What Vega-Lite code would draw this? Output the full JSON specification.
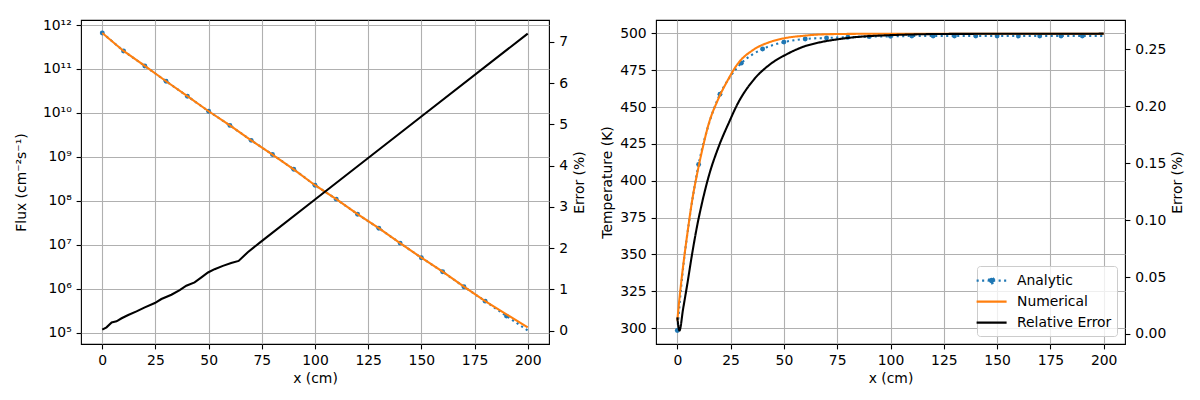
{
  "$schema": "https://vega.github.io/schema/vega-lite/v6.json",
  "padding": {"left": 13, "top": 17, "right": 5, "bottom": 5},
  "spacing": 12,
  "config": {
    "font": "DejaVu Sans",
    "view": {"stroke": "black", "strokeWidth": 1.1},
    "axis": {
      "labelFont": "DejaVu Sans", "labelFontSize": 13.9, "labelColor": "black",
      "titleFont": "DejaVu Sans", "titleFontSize": 13.9, "titleFontWeight": "normal", "titleColor": "black",
      "tickColor": "black", "tickSize": 4.9, "tickWidth": 1.1, "labelPadding": 4.9,
      "domain": false, "gridColor": "#b0b0b0", "gridWidth": 1.1, "gridOpacity": 1
    }
  },
  "resolve": {"scale": {"color": "independent", "strokeDash": "independent"}},
  "datasets": {
    "flux": [
      {"x": 0, "analytic": 6.6e11, "numerical": 6.6e11},
      {"x": 10, "analytic": 2.57e11, "numerical": 2.57e11},
      {"x": 20, "analytic": 1.17e11, "numerical": 1.17e11},
      {"x": 30, "analytic": 5.25e10, "numerical": 5.25e10},
      {"x": 40, "analytic": 2.4e10, "numerical": 2.4e10},
      {"x": 50, "analytic": 1.09e10, "numerical": 1.09e10},
      {"x": 60, "analytic": 5.2e9, "numerical": 5.2e9},
      {"x": 70, "analytic": 2.37e9, "numerical": 2.37e9},
      {"x": 80, "analytic": 1.13e9, "numerical": 1.13e9},
      {"x": 90, "analytic": 5.2e8, "numerical": 5.2e8},
      {"x": 100, "analytic": 2.26e8, "numerical": 2.26e8},
      {"x": 110, "analytic": 1.09e8, "numerical": 1.09e8},
      {"x": 120, "analytic": 4.95e7, "numerical": 4.95e7},
      {"x": 130, "analytic": 2.38e7, "numerical": 2.38e7},
      {"x": 140, "analytic": 1.09e7, "numerical": 1.09e7},
      {"x": 150, "analytic": 5.07e6, "numerical": 5.07e6},
      {"x": 160, "analytic": 2.43e6, "numerical": 2.43e6},
      {"x": 170, "analytic": 1.11e6, "numerical": 1.11e6},
      {"x": 180, "analytic": 5.2e5, "numerical": 5.2e5},
      {"x": 190, "analytic": 2.38e5, "numerical": 2.6e5},
      {"x": 200, "analytic": 1.12e5, "numerical": 1.32e5}
    ],
    "fluxErr": [
      {"x": 0, "err": 0.024}, {"x": 2, "err": 0.08}, {"x": 4.4, "err": 0.2}, {"x": 6.7, "err": 0.225},
      {"x": 9.1, "err": 0.3}, {"x": 12.2, "err": 0.38}, {"x": 16.1, "err": 0.467}, {"x": 20, "err": 0.564},
      {"x": 24.7, "err": 0.669}, {"x": 27.8, "err": 0.766}, {"x": 32.5, "err": 0.87}, {"x": 36.4, "err": 0.984},
      {"x": 39.5, "err": 1.09}, {"x": 43.4, "err": 1.17}, {"x": 46.6, "err": 1.29}, {"x": 49.7, "err": 1.41},
      {"x": 52.8, "err": 1.49}, {"x": 56.7, "err": 1.57}, {"x": 60.6, "err": 1.64}, {"x": 64.1, "err": 1.69},
      {"x": 68.4, "err": 1.9}, {"x": 74.2, "err": 2.14}, {"x": 100, "err": 3.18}, {"x": 150, "err": 5.19},
      {"x": 200, "err": 7.2}
    ],
    "temp": [
      {"x": 0, "series": "Analytic", "T": 298.4},
      {"x": 2.5, "series": "Analytic", "T": 338},
      {"x": 5, "series": "Analytic", "T": 367},
      {"x": 7.5, "series": "Analytic", "T": 391},
      {"x": 10, "series": "Analytic", "T": 411.1},
      {"x": 15, "series": "Analytic", "T": 439.5},
      {"x": 20, "series": "Analytic", "T": 458.7},
      {"x": 25, "series": "Analytic", "T": 471},
      {"x": 30, "series": "Analytic", "T": 479.8},
      {"x": 35, "series": "Analytic", "T": 485.5},
      {"x": 40, "series": "Analytic", "T": 489.4},
      {"x": 45, "series": "Analytic", "T": 492.2},
      {"x": 50, "series": "Analytic", "T": 494.1},
      {"x": 60, "series": "Analytic", "T": 496.2},
      {"x": 70, "series": "Analytic", "T": 496.9},
      {"x": 80, "series": "Analytic", "T": 497.4},
      {"x": 90, "series": "Analytic", "T": 497.8},
      {"x": 100, "series": "Analytic", "T": 498.0},
      {"x": 110, "series": "Analytic", "T": 498.2},
      {"x": 120, "series": "Analytic", "T": 498.2},
      {"x": 130, "series": "Analytic", "T": 498.2},
      {"x": 140, "series": "Analytic", "T": 498.2},
      {"x": 150, "series": "Analytic", "T": 498.2},
      {"x": 160, "series": "Analytic", "T": 498.2},
      {"x": 170, "series": "Analytic", "T": 498.2},
      {"x": 180, "series": "Analytic", "T": 498.2},
      {"x": 190, "series": "Analytic", "T": 498.2},
      {"x": 200, "series": "Analytic", "T": 498.2},
      {"x": 0, "series": "Numerical", "T": 305},
      {"x": 1, "series": "Numerical", "T": 320},
      {"x": 2.3, "series": "Numerical", "T": 337},
      {"x": 4.7, "series": "Numerical", "T": 364},
      {"x": 7, "series": "Numerical", "T": 387},
      {"x": 9.4, "series": "Numerical", "T": 405.5},
      {"x": 11.7, "series": "Numerical", "T": 421},
      {"x": 14.8, "series": "Numerical", "T": 439},
      {"x": 18.75, "series": "Numerical", "T": 454},
      {"x": 23.4, "series": "Numerical", "T": 467.6},
      {"x": 28.1, "series": "Numerical", "T": 478.9},
      {"x": 35.9, "series": "Numerical", "T": 489.1},
      {"x": 43.75, "series": "Numerical", "T": 494.3},
      {"x": 51.6, "series": "Numerical", "T": 497.1},
      {"x": 59.4, "series": "Numerical", "T": 498.4},
      {"x": 67.2, "series": "Numerical", "T": 499.3},
      {"x": 82.8, "series": "Numerical", "T": 499.7},
      {"x": 100, "series": "Numerical", "T": 499.8},
      {"x": 200, "series": "Numerical", "T": 499.8}
    ],
    "tempErr": [
      {"x": 0, "series": "Relative Error", "err": 0.0146},
      {"x": 1, "series": "Relative Error", "err": 0.003},
      {"x": 2.7, "series": "Relative Error", "err": 0.0219},
      {"x": 4.7, "series": "Relative Error", "err": 0.044},
      {"x": 7, "series": "Relative Error", "err": 0.071},
      {"x": 9.4, "series": "Relative Error", "err": 0.096},
      {"x": 11.7, "series": "Relative Error", "err": 0.116},
      {"x": 14.8, "series": "Relative Error", "err": 0.139},
      {"x": 19.5, "series": "Relative Error", "err": 0.165},
      {"x": 24.2, "series": "Relative Error", "err": 0.1857},
      {"x": 28.1, "series": "Relative Error", "err": 0.2015},
      {"x": 35.9, "series": "Relative Error", "err": 0.2235},
      {"x": 43.75, "series": "Relative Error", "err": 0.2372},
      {"x": 51.6, "series": "Relative Error", "err": 0.246},
      {"x": 59.4, "series": "Relative Error", "err": 0.2525},
      {"x": 67.2, "series": "Relative Error", "err": 0.2563},
      {"x": 75, "series": "Relative Error", "err": 0.2588},
      {"x": 82.8, "series": "Relative Error", "err": 0.2606},
      {"x": 100, "series": "Relative Error", "err": 0.2625},
      {"x": 130, "series": "Relative Error", "err": 0.2636},
      {"x": 200, "series": "Relative Error", "err": 0.2638}
    ]
  },
  "hconcat": [
    {
      "width": 468,
      "height": 324,
      "layer": [
        {
          "layer": [
            {
              "data": {"name": "flux"},
              "mark": {"type": "line", "color": "#1f77b4", "strokeWidth": 2.08, "strokeDash": [2.1, 3.4], "clip": true},
              "encoding": {
                "x": {"field": "x", "type": "quantitative", "scale": {"domain": [-10, 210], "nice": false, "zero": false},
                      "axis": {"values": [0, 25, 50, 75, 100, 125, 150, 175, 200], "title": "x (cm)", "grid": true, "titlePadding": 4}},
                "y": {"field": "analytic", "type": "quantitative", "title": "Flux (cm⁻²s⁻¹)",
                      "scale": {"type": "log", "domain": [5.51e4, 1.30e12], "nice": false},
                      "axis": {"orient": "left", "grid": true, "titlePadding": 14,
                               "values": [1e5, 1e6, 1e7, 1e8, 1e9, 1e10, 1e11, 1e12],
                               "labelExpr": "datum.value > 3e11 ? '10¹²' : datum.value > 3e10 ? '10¹¹' : datum.value > 3e9 ? '10¹⁰' : datum.value > 3e8 ? '10⁹' : datum.value > 3e7 ? '10⁸' : datum.value > 3e6 ? '10⁷' : datum.value > 3e5 ? '10⁶' : '10⁵'"}}
              }
            },
            {
              "data": {"name": "flux"},
              "transform": [{"filter": "datum.x < 200"}],
              "mark": {"type": "point", "filled": true, "color": "#1f77b4", "size": 24, "opacity": 1},
              "encoding": {
                "x": {"field": "x", "type": "quantitative"},
                "y": {"field": "analytic", "type": "quantitative", "title": "Flux (cm⁻²s⁻¹)"}
              }
            },
            {
              "data": {"name": "flux"},
              "mark": {"type": "line", "color": "#ff7f0e", "strokeWidth": 2.08, "clip": true},
              "encoding": {
                "x": {"field": "x", "type": "quantitative"},
                "y": {"field": "numerical", "type": "quantitative", "title": "Flux (cm⁻²s⁻¹)"}
              }
            }
          ]
        },
        {
          "data": {"name": "fluxErr"},
          "mark": {"type": "line", "color": "black", "strokeWidth": 2.08, "clip": true},
          "encoding": {
            "x": {"field": "x", "type": "quantitative"},
            "y": {"field": "err", "type": "quantitative", "title": "Error (%)",
                  "scale": {"domain": [-0.324, 7.53], "nice": false, "zero": false},
                  "axis": {"orient": "right", "grid": false, "values": [0, 1, 2, 3, 4, 5, 6, 7], "titlePadding": 5, "titleAngle": 270, "titleBaseline": "top"}}
          }
        }
      ],
      "resolve": {"scale": {"y": "independent"}}
    },
    {
      "width": 469,
      "height": 324,
      "layer": [
        {
          "layer": [
            {
              "data": {"name": "temp"},
              "transform": [{"filter": "datum.series == 'Analytic'"}],
              "mark": {"type": "line", "strokeWidth": 2.08, "clip": true, "interpolate": "monotone"},
              "encoding": {
                "x": {"field": "x", "type": "quantitative", "scale": {"domain": [-10, 210], "nice": false, "zero": false},
                      "axis": {"values": [0, 25, 50, 75, 100, 125, 150, 175, 200], "title": "x (cm)", "grid": true, "titlePadding": 4}},
                "y": {"field": "T", "type": "quantitative", "title": "Temperature (K)",
                      "scale": {"domain": [289.2, 509.1], "nice": false, "zero": false},
                      "axis": {"orient": "left", "grid": true, "titlePadding": 5, "values": [300, 325, 350, 375, 400, 425, 450, 475, 500]}},
                "color": {"field": "series", "type": "nominal",
                          "scale": {"domain": ["Analytic", "Numerical", "Relative Error"], "range": ["#1f77b4", "#ff7f0e", "black"]},
                          "legend": {
                            "title": null, "orient": "bottom-right", "offset": 8, "padding": 5.6,
                            "strokeColor": "#cccccc", "fillColor": "rgba(255,255,255,0.8)", "cornerRadius": 3,
                            "labelFont": "DejaVu Sans", "labelFontSize": 13.9, "labelColor": "black",
                            "symbolType": "stroke", "symbolSize": 225, "symbolStrokeWidth": 2.08,
                            "labelOffset": 16.4, "rowPadding": 5,
                            "encode": {"symbols": {"update": {
                              "shape": {"signal": "datum.value === 'Analytic' ? 'M-2,0L2,0M-0.37,0A0.37,0.37,0,1,1,0.37,0A0.37,0.37,0,1,1,-0.37,0Z' : 'M-2,0L2,0'"},
                              "fill": {"signal": "datum.value === 'Analytic' ? '#1f77b4' : 'transparent'"}
                            }}}
                          }},
                "strokeDash": {"field": "series", "type": "nominal",
                               "scale": {"domain": ["Analytic", "Numerical", "Relative Error"], "range": [[2.1, 3.4], [1, 0], [1, 0]]},
                               "legend": {
                                 "title": null, "orient": "bottom-right", "offset": 8, "padding": 5.6,
                                 "strokeColor": "#cccccc", "fillColor": "rgba(255,255,255,0.8)", "cornerRadius": 3,
                                 "labelFont": "DejaVu Sans", "labelFontSize": 13.9, "labelColor": "black",
                                 "symbolType": "stroke", "symbolSize": 225, "symbolStrokeWidth": 2.08,
                                 "labelOffset": 16.4, "rowPadding": 5}}
              }
            },
            {
              "data": {"name": "temp"},
              "transform": [{"filter": "datum.series == 'Analytic' && datum.x % 10 == 0 && datum.x < 200"}],
              "mark": {"type": "point", "filled": true, "color": "#1f77b4", "size": 24, "opacity": 1},
              "encoding": {
                "x": {"field": "x", "type": "quantitative"},
                "y": {"field": "T", "type": "quantitative", "title": "Temperature (K)"}
              }
            },
            {
              "data": {"name": "temp"},
              "transform": [{"filter": "datum.series == 'Numerical'"}],
              "mark": {"type": "line", "strokeWidth": 2.08, "clip": true, "interpolate": "monotone"},
              "encoding": {
                "x": {"field": "x", "type": "quantitative"},
                "y": {"field": "T", "type": "quantitative", "title": "Temperature (K)"},
                "color": {"field": "series", "type": "nominal"},
                "strokeDash": {"field": "series", "type": "nominal"}
              }
            }
          ]
        },
        {
          "data": {"name": "tempErr"},
          "mark": {"type": "line", "strokeWidth": 2.08, "clip": true, "interpolate": "monotone"},
          "encoding": {
            "x": {"field": "x", "type": "quantitative"},
            "y": {"field": "err", "type": "quantitative", "title": "Error (%)",
                  "scale": {"domain": [-0.0088, 0.2758], "nice": false, "zero": false},
                  "axis": {"orient": "right", "grid": false, "values": [0, 0.05, 0.1, 0.15, 0.2, 0.25], "format": ".2f", "titlePadding": 5, "titleAngle": 270, "titleBaseline": "top"}},
            "color": {"field": "series", "type": "nominal"},
            "strokeDash": {"field": "series", "type": "nominal"}
          }
        }
      ],
      "resolve": {"scale": {"y": "independent"}}
    }
  ]
}
